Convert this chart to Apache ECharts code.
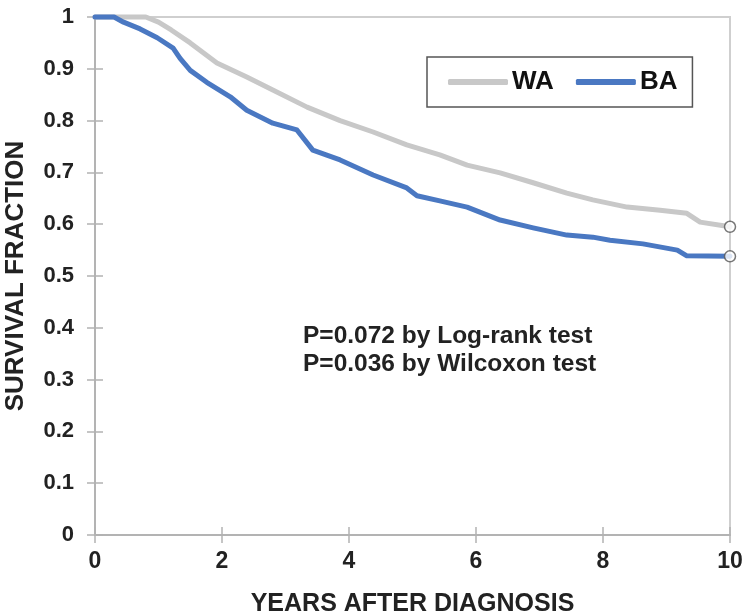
<!DOCTYPE html>
<html>
<head>
<meta charset="utf-8">
<script src="https://cdn.jsdelivr.net/npm/echarts@6/dist/echarts.min.js"></script>
<style>html,body{margin:0;padding:0;background:#fff}#c{width:750px;height:616px}</style>
</head>
<body>
<div id="c"></div>
<script>
// Years after diagnosis (t) and survival fraction (s)
var waT = [0, 0.8, 1.0, 1.2, 1.5, 1.92, 2.39, 2.8, 3.34, 3.86, 4.38, 4.91, 5.43, 5.86, 6.38, 6.9, 7.43, 7.84, 8.38, 8.9, 9.32, 9.53, 9.95, 10];
var waS = [1, 1, 0.99, 0.975, 0.95, 0.911, 0.884, 0.859, 0.826, 0.80, 0.778, 0.753, 0.734, 0.714, 0.699, 0.68, 0.66, 0.647, 0.633, 0.627, 0.621, 0.604, 0.596, 0.595];
var baT = [0, 0.3, 0.45, 0.71, 0.98, 1.23, 1.34, 1.5, 1.76, 2.13, 2.39, 2.8, 3.18, 3.43, 3.86, 4.38, 4.91, 5.07, 5.43, 5.86, 6.38, 6.9, 7.43, 7.84, 8.11, 8.63, 9.17, 9.32, 10];
var baS = [1, 1, 0.99, 0.977, 0.96, 0.94, 0.92, 0.897, 0.874, 0.846, 0.82, 0.795, 0.782, 0.743, 0.724, 0.695, 0.67, 0.655, 0.645, 0.633, 0.608, 0.593, 0.579, 0.575, 0.569, 0.562, 0.55, 0.539, 0.538];
var seriesNames = ['WA', 'BA'];
var xTicks = [0, 2, 4, 6, 8, 10];
var yTicks = [0, 0.1, 0.2, 0.3, 0.4, 0.5, 0.6, 0.7, 0.8, 0.9, 1];
var pText = ['P=0.072 by Log-rank test', 'P=0.036 by Wilcoxon test'];

function pairs(t, s) { return t.map(function (v, i) { return [v, s[i]]; }); }
var waData = pairs(waT, waS);
var baData = pairs(baT, baS);
var endData = [waData[waData.length - 1], baData[baData.length - 1]];

var FONT = '"Liberation Sans", Arial, sans-serif';
var AX = '#b3b3b3';

var chart = echarts.init(document.getElementById('c'), null, { renderer: 'canvas' });
chart.setOption({
  animation: false,
  backgroundColor: '#fff',
  grid: { left: 95, right: 20, top: 17, bottom: 81, containLabel: false, outerBoundsMode: 'none',
    show: true, borderColor: '#cfcfcf', borderWidth: 2, backgroundColor: 'transparent' },
  legend: {
    data: seriesNames,
    left: 427, top: 57,
    orient: 'horizontal',
    icon: 'roundRect',
    itemWidth: 60, itemHeight: 6, itemGap: 22,
    padding: [12, 15, 12, 21],
    borderColor: '#555', borderWidth: 1.5,
    backgroundColor: '#fff',
    textStyle: { fontFamily: FONT, fontWeight: 'bold', fontSize: 26, color: '#111', padding: [0, 0, 0, -1] }
  },
  xAxis: [{
    type: 'value', min: xTicks[0], max: xTicks[xTicks.length - 1], interval: 2,
    name: 'YEARS AFTER DIAGNOSIS', nameLocation: 'middle', nameGap: 57,
    nameTextStyle: { fontFamily: FONT, fontWeight: 'bold', fontSize: 25, color: '#222' },
    axisLine: { show: true, onZero: false, lineStyle: { color: AX, width: 2 } },
    axisTick: { show: true, inside: false, length: 8, lineStyle: { color: AX, width: 1.5 } },
    axisLabel: { fontFamily: FONT, fontWeight: 'bold', fontSize: 23, color: '#222', margin: 15 },
    splitLine: { show: false }
  }, {
    type: 'value', min: xTicks[0], max: xTicks[xTicks.length - 1], interval: 2, position: 'bottom',
    axisLine: { show: false },
    axisTick: { show: true, inside: true, length: 8, lineStyle: { color: AX, width: 1.5 } },
    axisLabel: { show: false }, splitLine: { show: false }
  }],
  yAxis: [{
    type: 'value', min: yTicks[0], max: yTicks[yTicks.length - 1], interval: 0.1,
    name: 'SURVIVAL FRACTION', nameLocation: 'middle', nameGap: 66, nameRotate: 90,
    nameTextStyle: { fontFamily: FONT, fontWeight: 'bold', fontSize: 26, color: '#222' },
    axisLine: { show: true, onZero: false, lineStyle: { color: AX, width: 2 } },
    axisTick: { show: true, inside: false, length: 8, lineStyle: { color: AX, width: 1.5 } },
    axisLabel: { fontFamily: FONT, fontWeight: 'bold', fontSize: 22, color: '#222', margin: 21,
      formatter: function (v) { return String(Math.round(v * 10) / 10); } },
    splitLine: { show: false }
  }, {
    type: 'value', min: yTicks[0], max: yTicks[yTicks.length - 1], interval: 0.1, position: 'left',
    axisLine: { show: false },
    axisTick: { show: true, inside: true, length: 8, lineStyle: { color: AX, width: 1.5 } },
    axisLabel: { show: false }, splitLine: { show: false }
  }],
  graphic: [{
    type: 'text', left: 303, top: 322, z: 10,
    style: { text: pText.join('\n'), fontFamily: FONT, fontWeight: 'bold', fontSize: 24.5, lineHeight: 28, fill: '#222' }
  }],
  series: [{
    name: 'WA', type: 'line', data: waData, xAxisIndex: 0, yAxisIndex: 0,
    symbol: 'none', clip: false, z: 3,
    color: '#c8c8c8',
    lineStyle: { color: '#c8c8c8', width: 5, join: 'round', cap: 'round' }
  }, {
    name: 'BA', type: 'line', data: baData, xAxisIndex: 0, yAxisIndex: 0,
    symbol: 'none', clip: false, z: 4,
    color: '#4a78c2',
    lineStyle: { color: '#4a78c2', width: 5, join: 'round', cap: 'round' }
  }, {
    name: 'end', type: 'scatter', data: endData, xAxisIndex: 0, yAxisIndex: 0,
    symbol: 'circle', symbolSize: 11, clip: false, z: 6,
    itemStyle: { color: '#fff', borderColor: '#555', borderWidth: 1.5 }
  }]
});
</script>
</body>
</html>
